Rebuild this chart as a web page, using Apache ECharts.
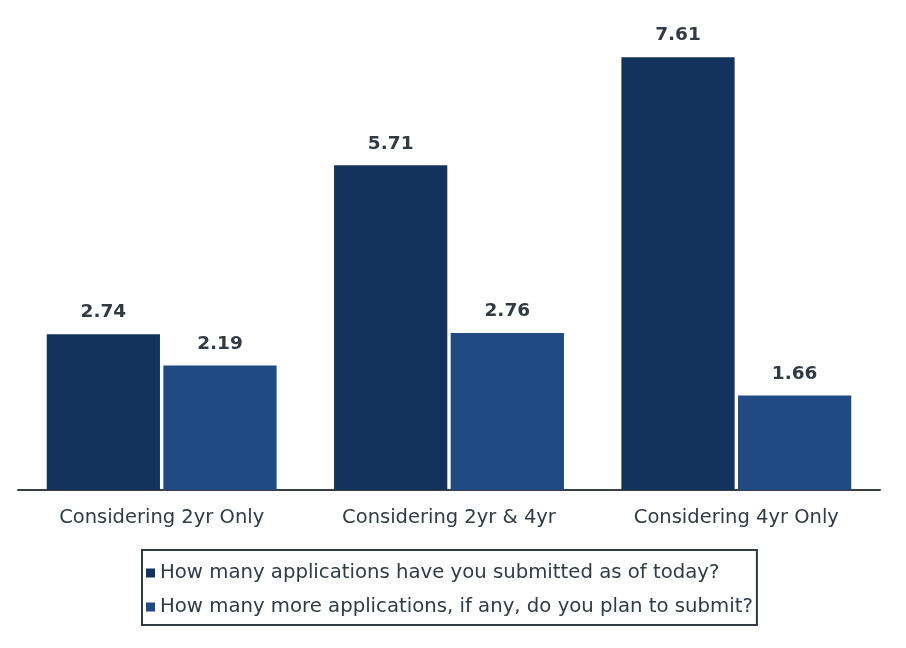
<!DOCTYPE html>
<html>
<head>
<meta charset="utf-8">
<script src="https://cdn.jsdelivr.net/npm/echarts@6/dist/echarts.min.js"></script>
<style>
  html, body { margin: 0; padding: 0; background: #fff; }
  #chart { width: 906px; height: 648px; }
</style>
</head>
<body>
<div id="chart"></div>
<script>
// 数据
const categories = ['Considering 2yr Only', 'Considering 2yr & 4yr', 'Considering 4yr Only'];
const seriesNames = [
  'How many applications have you submitted as of today?',
  'How many more applications, if any, do you plan to submit?'
];
const submitted = [2.74, 5.71, 7.61];
const planned = [2.19, 2.76, 1.66];

const font = '"DejaVu Sans", Verdana, sans-serif';
const colors = ['#14335c', '#1f4a82'];

const myChart = echarts.init(document.getElementById('chart'));

const labelStyle = {
  show: true,
  position: 'top',
  distance: 12,
  fontFamily: font,
  fontSize: 18.5,
  fontWeight: 'bold',
  color: '#333a44',
  formatter: p => p.value.toFixed(2)
};

myChart.setOption({
  animation: false,
  color: colors,
  grid: { left: 18, right: 26, top: 35, bottom: 158 },
  legend: {
    orient: 'vertical',
    left: 142,
    top: 550,
    padding: [13, 4, 8, 4],
    borderColor: '#333a44',
    borderWidth: 2,
    itemWidth: 9,
    itemHeight: 9,
    itemGap: 14,
    icon: 'rect',
    data: seriesNames,
    textStyle: { fontFamily: font, fontSize: 19.7, color: '#333a44' }
  },
  xAxis: {
    type: 'category',
    data: categories,
    axisLine: { lineStyle: { color: '#3a3f47', width: 2 } },
    axisTick: { show: false },
    axisLabel: { fontFamily: font, fontSize: 19.5, color: '#333a44', margin: 18 }
  },
  yAxis: {
    type: 'value',
    min: 0,
    max: 8,
    show: false,
    splitLine: { show: false }
  },
  series: [
    {
      name: seriesNames[0],
      type: 'bar',
      data: submitted,
      barGap: '3%',
      barCategoryGap: '20%',
      label: labelStyle
    },
    {
      name: seriesNames[1],
      type: 'bar',
      data: planned,
      label: labelStyle
    }
  ]
});
</script>
</body>
</html>
